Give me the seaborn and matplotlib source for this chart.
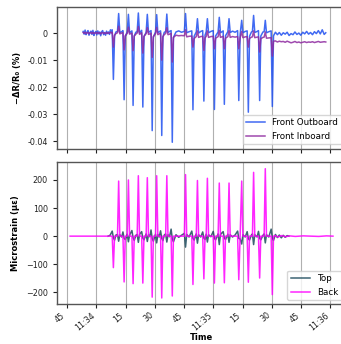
import matplotlib
matplotlib.use("Agg")
import matplotlib.pyplot as plt
import matplotlib.dates as mdates
from matplotlib.ticker import FuncFormatter
import pandas as pd
import seaborn as sns

# times are seconds after 11:33:45
START = pd.Timestamp("2024-01-01 11:33:45")

# ---- top panel: resistance change (%) ----
t_pre = [8.2, 8.7, 9.2, 9.7, 10.2, 10.7, 11.2, 11.7, 12.2, 12.7, 13.2, 13.7, 14.2, 14.7, 15.2,
         15.7, 16.2, 16.7, 17.2, 17.7, 18.2, 18.7, 19.2, 19.7, 20.2, 20.7, 21.2, 21.7, 22.2, 22.7]
fo_pre = [0.0006, -0.0004, 0.0011, -0.0006, 0.0003, 0.0009, -0.0008, 0.0002, 0.0007, -0.0005,
          0.0010, -0.0009, 0.0001, 0.0006, -0.0007, 0.0008, -0.0003, 0.0004, -0.0010, 0.0005,
          0.0009, -0.0006, 0.0002, -0.0008, 0.0007, -0.0002, 0.0004, -0.0005, 0.0012, 0.0003]
fi_pre = [0.0002, -0.0001, 0.0003, -0.0002, 0.0001, 0.0002, -0.0003, 0.0001, 0.0002, -0.0002,
          0.0003, -0.0002, 0.0000, 0.0002, -0.0002, 0.0002, -0.0001, 0.0001, -0.0003, 0.0001,
          0.0002, -0.0002, 0.0001, -0.0002, 0.0002, -0.0001, 0.0001, -0.0001, 0.0003, 0.0001]

# loading events (shared by both panels)
t_spk = [23.1, 23.7, 24.3, 25.0, 25.8, 26.4, 27.0, 28.0, 28.6, 29.2, 29.8, 30.8, 31.4, 32.0,
         33.2, 33.8, 34.4, 35.2, 35.9, 36.5, 37.1, 38.2, 38.8, 39.4, 40.5, 41.1, 41.7, 42.4,
         43.0, 43.6, 44.2, 45.3, 45.9, 46.5, 47.2, 47.9, 48.5, 49.1, 49.8, 50.5, 51.1, 51.7,
         52.5, 53.3, 53.9, 54.5, 55.8, 57.2, 58.6, 60.1, 60.7, 61.3, 62.5, 63.9, 64.5, 65.1,
         66.2, 66.8, 67.4, 68.5, 69.5, 70.1, 70.7, 71.3, 71.9, 72.5, 73.7, 74.9, 75.5, 76.1,
         77.4, 78.0, 78.6, 80.0, 80.6, 81.2, 82.4, 83.0, 83.6, 84.8, 86.1, 87.4, 88.0, 88.7,
         89.5, 90.1, 91.3, 92.3, 92.9, 93.5, 94.5, 95.0, 95.6, 96.2, 97.4, 98.1, 98.7, 99.3,
         100.4, 101.0, 101.6, 102.2, 103.4, 104.6, 105.2, 105.8]
fo_spk = [0.0012, -0.0171, -0.0010, 0.0004, 0.0006, 0.0072, 0.0002, 0.0005,
          0.0009, -0.0246, -0.0012, 0.0004, 0.0069, 0.0001,
          0.0008, -0.0267, -0.0011, 0.0003, 0.0005, 0.0074, 0.0000,
          0.0010, -0.0273, -0.0013, 0.0003, 0.0069, 0.0002, 0.0006,
          0.0009, -0.0360, -0.0015, 0.0004, 0.0068, 0.0001, 0.0005,
          0.0008, -0.0378, -0.0014, 0.0003, 0.0005, 0.0070, 0.0002, 0.0006,
          0.0009, -0.0403, -0.0016, 0.0004, 0.0008, 0.0003,
          0.0006, 0.0072, 0.0001, 0.0005, 0.0008, -0.0283, -0.0012,
          0.0004, 0.0053, 0.0000, 0.0006, 0.0009, -0.0251,
          -0.0008, 0.0005, 0.0053, 0.0001, 0.0006, 0.0009, -0.0282, -0.0011,
          0.0004, 0.0058, 0.0001, 0.0008, -0.0263, -0.0010,
          0.0005, 0.0053, 0.0002, 0.0007, 0.0003, 0.0009, -0.0249, -0.0004,
          0.0047, 0.0001, 0.0006, 0.0008, -0.0292, -0.0012, 0.0004,
          0.0006, 0.0065, 0.0002, 0.0006, 0.0009, -0.0249, -0.0011, 0.0004,
          0.0005, 0.0047, 0.0001, 0.0005, 0.0008, -0.0271, -0.0010]
fi_spk = [0.0003, -0.0052, -0.0008, -0.0002, 0.0001, 0.0025, -0.0003, 0.0000,
          0.0002, -0.0062, -0.0010, -0.0001, 0.0022, -0.0004,
          0.0000, -0.0065, -0.0011, -0.0004, 0.0000, 0.0024, -0.0005,
          0.0001, -0.0074, -0.0012, -0.0002, 0.0020, -0.0005, -0.0003,
          0.0000, -0.0090, -0.0013, -0.0002, 0.0021, -0.0006, -0.0003,
          0.0000, -0.0100, -0.0014, -0.0005, -0.0002, 0.0020, -0.0006, -0.0004,
          -0.0001, -0.0107, -0.0016, -0.0008, -0.0010, -0.0009,
          -0.0010, 0.0012, -0.0014, -0.0012, -0.0011, -0.0052, -0.0020,
          -0.0013, 0.0008, -0.0016, -0.0013, -0.0012, -0.0064,
          -0.0018, -0.0012, 0.0008, -0.0016, -0.0013, -0.0012, -0.0058, -0.0019,
          -0.0013, 0.0010, -0.0016, -0.0012, -0.0058, -0.0019,
          -0.0013, 0.0009, -0.0016, -0.0013, -0.0015, -0.0013, -0.0058, -0.0017,
          0.0006, -0.0017, -0.0014, -0.0013, -0.0052, -0.0020, -0.0015,
          -0.0014, 0.0008, -0.0017, -0.0015, -0.0014, -0.0070, -0.0021, -0.0016,
          -0.0015, 0.0004, -0.0019, -0.0018, -0.0017, -0.0085, -0.0030]

t_tail = [106.8, 107.8, 108.8, 109.8, 110.8, 111.8, 112.8, 113.8, 114.8, 115.8, 116.8, 117.8,
          118.8, 119.8, 120.8, 121.8, 122.8, 123.8, 124.8, 125.8, 126.8, 127.8, 128.8, 129.8,
          130.8, 131.8, 132.6]
fo_tail = [0.0003, -0.0006, 0.0002, -0.0008, 0.0001, -0.0004, 0.0003, -0.0009, -0.0002, -0.0006,
           0.0004, -0.0005, 0.0000, -0.0008, 0.0003, -0.0003, 0.0006, -0.0004, 0.0002, -0.0006,
           0.0005, -0.0002, 0.0009, -0.0003, 0.0012, -0.0005, 0.0001]
fi_tail = [-0.0029, -0.0033, -0.0030, -0.0032, -0.0031, -0.0034, -0.0030, -0.0033, -0.0036,
           -0.0034, -0.0031, -0.0035, -0.0033, -0.0036, -0.0034, -0.0032, -0.0035, -0.0033,
           -0.0034, -0.0032, -0.0035, -0.0033, -0.0031, -0.0034, -0.0033, -0.0032, -0.0033]

# ---- bottom panel: microstrain ----
top_spk = [18, -6, -14, 4, 6, -18, 5, -3,
           15, -8, -12, 7, -20, 4,
           20, -6, -15, 3, 6, -22, 6,
           16, -7, -13, 8, -19, 5, -2,
           22, -9, -18, 7, -24, 6, -3,
           19, -8, -16, 4, 8, -21, 5, -2,
           25, -10, -20, 5, -4, 3,
           10, -39, 6, -3, 18, -8, -14,
           8, -25, 5, -3, 15, -7,
           -12, 7, -21, 5, -2, 17, -8, -13,
           8, -30, 6, 16, -7, -12,
           7, -22, 5, -3, 4, 18, -8, -10,
           -28, 5, -3, 16, -9, -14, 4,
           8, -30, 5, -3, 17, -8, -13, 3,
           8, -24, 5, -3, 25, -6, -15]
back_spk = [0, -112, 0, 0, 0, 196, 0, 0,
            0, -163, 0, 0, 200, 0,
            0, -169, 0, 0, 0, 215, 0,
            0, -167, 0, 0, 208, 0, 0,
            0, -217, 0, 0, 215, 0, 0,
            0, -220, 0, 0, 0, 215, 0, 0,
            0, -213, 0, 0, 0, 0,
            0, 219, 0, 0, 0, -172, 0,
            0, 198, 0, 0, 0, -152,
            0, 0, 206, 0, 0, 0, -167, 0,
            0, 189, 0, 0, -166, 0,
            0, 189, 0, 0, 0, 0, -155, 0,
            196, 0, 0, 0, -164, 0, 0,
            0, 227, 0, 0, 0, -149, 0, 0,
            0, 240, 0, 0, 0, -208, 0]

t_back_pre = [1.5, 6.0, 11.0, 16.0, 21.0, 22.4]
back_pre = [0, 0, 0, 0, 0, 0]
t_top_pre = [21.0, 22.0]
top_pre = [0, 3]

t_back_tail = [106.8, 108.0, 110.0, 112.0, 114.0, 117.0, 121.0, 125.0, 129.0, 133.0, 136.3]
back_tail = [2, -3, 2, -2, 1, -1, 1, 0, -1, 1, 0]
t_top_tail = [106.8, 107.8, 108.8, 109.8, 110.8, 111.8, 112.8, 113.7]
top_tail = [6, -5, 4, -6, 3, -4, 2, 0]


def to_time(sec):
    return START + pd.to_timedelta(pd.Series(sec, dtype=float), unit="s")


res = pd.DataFrame({"time": to_time(t_pre + t_spk + t_tail),
                    "fo": fo_pre + fo_spk + fo_tail,
                    "fi": fi_pre + fi_spk + fi_tail})
top = pd.DataFrame({"time": to_time(t_top_pre + t_spk + t_top_tail),
                    "v": top_pre + top_spk + top_tail})
back = pd.DataFrame({"time": to_time(t_back_pre + t_spk + t_back_tail),
                     "v": back_pre + back_spk + back_tail})

plt.rcParams["font.family"] = ["DejaVu Sans"]

fig, (ax1, ax2) = plt.subplots(2, 1, sharex=True, figsize=(3.41, 3.44), dpi=100)
fig.subplots_adjust(left=0.167, right=1.015, top=0.981, bottom=0.115, hspace=0.095)

lw = 1.1
sns.lineplot(data=res, x="time", y="fo", ax=ax1, color="#2050f0", alpha=0.85,
             lw=lw, estimator=None, label="Front Outboard")
sns.lineplot(data=res, x="time", y="fi", ax=ax1, color="#8e2aa0", alpha=0.85,
             lw=lw, estimator=None, label="Front Inboard")
sns.lineplot(data=top, x="time", y="v", ax=ax2, color="#1b4a5c", alpha=0.85,
             lw=lw, estimator=None, label="Top")
sns.lineplot(data=back, x="time", y="v", ax=ax2, color="#ff00ff", alpha=0.85,
             lw=lw, estimator=None, label="Back")

ax1.set_ylabel("\u2212\u0394R/R\u2080 (%)", fontsize=6, fontweight="bold")
ax2.set_ylabel("Microstrain (\u03bc\u03b5)", fontsize=6, fontweight="bold")
ax1.set_xlabel("")
ax2.set_xlabel("Time", fontsize=6, fontweight="bold", labelpad=0.5)
ax1.yaxis.set_major_formatter(FuncFormatter(lambda v, p: "{:g}".format(round(v, 4))))

loc = mdates.SecondLocator(bysecond=[0, 15, 30, 45])
ax2.xaxis.set_major_locator(loc)
ax2.xaxis.set_major_formatter(mdates.ConciseDateFormatter(loc, show_offset=False))

for ax in (ax1, ax2):
    ax.grid(axis="x", color="#b0b0b0", lw=0.8)
    ax.set_axisbelow(True)
    ax.tick_params(labelsize=5.8, length=3, width=0.8, colors="#222222")
    for s in ax.spines.values():
        s.set_color("#555555")
        s.set_linewidth(1.0)
    ax.legend(loc="lower right", fontsize=6.3, handlelength=2.2)

ax2.tick_params(axis="x", pad=1.5)
for lab in ax2.get_xticklabels():
    lab.set_rotation(40)
    lab.set_ha("right")

fig.savefig("out.png", dpi=100)
